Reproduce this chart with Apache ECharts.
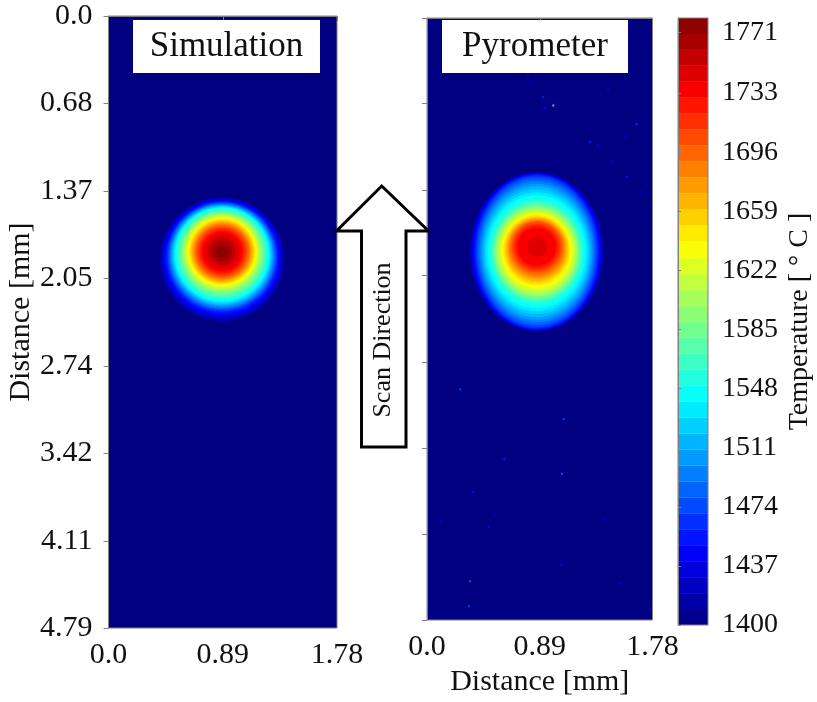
<!DOCTYPE html>
<html>
<head>
<meta charset="utf-8">
<script src="https://cdn.jsdelivr.net/npm/echarts@6/dist/echarts.min.js"></script>
<style>
  html, body { margin: 0; padding: 0; background: #ffffff; }
  #chart { width: 817px; height: 702px; }
</style>
</head>
<body>
<div id="chart"></div>
<script>
// ---- Axis ticks ----
const yTickLabels = ['0.0', '0.68', '1.37', '2.05', '2.74', '3.42', '4.11', '4.79'];
const xTickLabels = ['0.0', '0.89', '1.78'];
const tempTickLabels = [1400, 1437, 1474, 1511, 1548, 1585, 1622, 1659, 1696, 1733, 1771];
const trackWidth = 1.78;   // mm
const trackLength = 4.79;  // mm
const tempMin = 1400;
const tempMax = 1780;
const bandStep = 10;       // colour band width, °C

// ---- Simulation: isotherms (T >= level inside each circle) ----
const simLevels = [1410, 1420, 1430, 1440, 1450, 1460, 1470, 1480, 1490, 1500,
                   1510, 1520, 1530, 1540, 1550, 1560, 1570, 1580, 1590, 1600,
                   1610, 1620, 1630, 1640, 1650, 1660, 1670, 1680, 1690, 1700,
                   1710, 1720, 1730, 1740, 1750, 1760, 1770];
const simCenterX = 0.885;
const simCenterY = [1.903, 1.899, 1.896, 1.892, 1.889, 1.885, 1.882, 1.880, 1.878, 1.875,
                    1.873, 1.871, 1.868, 1.866, 1.863, 1.860, 1.857, 1.855, 1.853, 1.850,
                    1.849, 1.847, 1.846, 1.844, 1.844, 1.844, 1.844, 1.844, 1.844, 1.844,
                    1.844, 1.844, 1.844, 1.844, 1.844, 1.844, 1.844];
const simRadius = [0.484, 0.473, 0.463, 0.452, 0.441, 0.430, 0.422, 0.414, 0.406, 0.398,
                   0.391, 0.383, 0.375, 0.367, 0.356, 0.344, 0.333, 0.321, 0.310, 0.299,
                   0.289, 0.279, 0.269, 0.260, 0.250, 0.240, 0.230, 0.220, 0.210, 0.198,
                   0.185, 0.172, 0.158, 0.135, 0.108, 0.080, 0.050];

// ---- Pyrometer: isotherms (ellipses) ----
const pyroLevels = [1410, 1420, 1430, 1440, 1450, 1460, 1470, 1480, 1490, 1500,
                    1510, 1520, 1530, 1540, 1550, 1560, 1570, 1580, 1590, 1600,
                    1610, 1620, 1630, 1640, 1650, 1660, 1670, 1680, 1690, 1700,
                    1710, 1720, 1730, 1740];
const pyroCenterX = 0.866;
const pyroCenterY = [1.860, 1.860, 1.860, 1.860, 1.860, 1.860, 1.860, 1.860, 1.860, 1.860,
                     1.860, 1.860, 1.860, 1.860, 1.860, 1.860, 1.860, 1.860, 1.860, 1.860,
                     1.858, 1.855, 1.851, 1.847, 1.843, 1.840, 1.836, 1.832, 1.828, 1.822,
                     1.822, 1.821, 1.821, 1.821];
const pyroHalfWidth = [0.529, 0.521, 0.513, 0.506, 0.495, 0.485, 0.474, 0.463, 0.451, 0.440,
                       0.428, 0.415, 0.403, 0.387, 0.370, 0.355, 0.346, 0.336, 0.326, 0.316,
                       0.303, 0.291, 0.278, 0.265, 0.253, 0.242, 0.231, 0.221, 0.209, 0.197,
                       0.183, 0.169, 0.152, 0.079];
const pyroHalfHeight = [0.632, 0.628, 0.625, 0.621, 0.617, 0.609, 0.597, 0.581, 0.561, 0.542,
                        0.522, 0.498, 0.474, 0.451, 0.423, 0.399, 0.383, 0.368, 0.356, 0.344,
                        0.328, 0.312, 0.296, 0.281, 0.265, 0.253, 0.240, 0.227, 0.213, 0.200,
                        0.185, 0.170, 0.152, 0.079];

// ---- Pyrometer: isolated hot pixels ----
const speckX = [0.997, 0.916, 0.932, 1.287, 1.350, 1.655, 1.563, 1.468, 1.576, 1.681,
                0.797, 1.429, 0.263, 1.079, 0.610, 1.066, 0.363, 0.539, 0.487, 0.105,
                1.395, 0.339, 0.332, 1.063, 1.524, 1.761];
const speckY = [0.696, 0.630, 0.719, 0.988, 1.020, 0.846, 0.949, 1.146, 1.265, 1.383,
                0.490, 0.569, 2.954, 3.191, 3.508, 3.626, 3.771, 3.953, 4.047, 4.000,
                3.992, 4.482, 4.680, 4.348, 4.496, 4.693];
const speckTemp = [1530, 1460, 1450, 1460, 1450, 1470, 1440, 1440, 1450, 1440,
                   1440, 1430, 1470, 1470, 1460, 1480, 1450, 1440, 1450, 1430,
                   1430, 1480, 1470, 1450, 1440, 1440];

// ---------------------------------------------------------------
const FONT = "'Liberation Serif', 'Times New Roman', serif";
const AXIS_GREY = '#808080';
const yTickValues = yTickLabels.map(Number);
const xTickValues = xTickLabels.map(Number);
const labelOf = (vals, labels) => v => {
  const i = vals.findIndex(t => Math.abs(t - v) < 1e-6);
  return i >= 0 ? labels[i] : '';
};

// Every item: [a, b, c, d, temperature]; temperature lives in dimension 4
const fieldRect = [[0, 0, trackWidth, trackLength, tempMin]];
const simData = simLevels.map((lv, i) =>
  [simCenterX, simCenterY[i], simRadius[i], simRadius[i], lv + bandStep / 2]);
const pyroData = pyroLevels.map((lv, i) =>
  [pyroCenterX, pyroCenterY[i], pyroHalfWidth[i], pyroHalfHeight[i], lv + bandStep / 2]);
const speckSize = 0.016;
const speckData = speckX.map((x, i) =>
  [x - speckSize / 2, speckY[i] - speckSize / 2, x + speckSize / 2, speckY[i] + speckSize / 2, speckTemp[i]]);
const bandData = [];
for (let t = tempMin; t < tempMax; t += bandStep) {
  bandData.push([0, t, 1, t + bandStep, t + bandStep / 2]);
}

function renderRect(params, api) {
  const p0 = api.coord([api.value(0), api.value(1)]);
  const p1 = api.coord([api.value(2), api.value(3)]);
  return {
    type: 'rect',
    shape: {
      x: Math.min(p0[0], p1[0]), y: Math.min(p0[1], p1[1]),
      width: Math.abs(p1[0] - p0[0]), height: Math.abs(p1[1] - p0[1])
    },
    style: { fill: api.visual('color') }
  };
}
function renderEllipse(params, api) {
  const c = api.coord([api.value(0), api.value(1)]);
  const s = api.size([api.value(2), api.value(3)]);
  return {
    type: 'ellipse',
    shape: { cx: c[0], cy: c[1], rx: s[0], ry: s[1] },
    style: { fill: api.visual('color') }
  };
}

const distLabelStyle = { fontFamily: FONT, fontSize: 30, color: '#111' };
const nameStyle = { fontFamily: FONT, fontSize: 30, color: '#111' };

function distanceXAxis(gridIndex, withName) {
  return {
    type: 'value', gridIndex, min: 0, max: trackWidth, z: 10,
    name: withName ? 'Distance [mm]' : '',
    nameLocation: 'middle', nameGap: 47,
    nameTextStyle: nameStyle,
    axisLine: { show: true, lineStyle: { color: AXIS_GREY, width: 1 } },
    axisTick: { show: true, inside: false, length: 5, customValues: xTickValues,
                lineStyle: { color: AXIS_GREY } },
    axisLabel: Object.assign({ show: true, margin: 12, customValues: xTickValues,
                formatter: labelOf(xTickValues, xTickLabels) }, distLabelStyle),
    splitLine: { show: false }
  };
}
function distanceYAxis(gridIndex, withLabels) {
  return {
    type: 'value', gridIndex, min: 0, max: trackLength, inverse: true, z: 10,
    name: withLabels ? 'Distance [mm]' : '',
    nameLocation: 'middle', nameGap: 72, nameRotate: 90,
    nameTextStyle: Object.assign({ padding: [0, 0, 0, 20] }, nameStyle),
    axisLine: { show: true, lineStyle: { color: AXIS_GREY, width: 1 } },
    axisTick: { show: true, inside: false, length: 5, customValues: yTickValues,
                lineStyle: { color: AXIS_GREY } },
    axisLabel: Object.assign({ show: withLabels, margin: 16, customValues: yTickValues,
                formatter: labelOf(yTickValues, yTickLabels) }, distLabelStyle),
    splitLine: { show: false }
  };
}

const chart = echarts.init(document.getElementById('chart'), null, { renderer: 'canvas' });

const option = {
  backgroundColor: '#ffffff',
  animation: false,
  grid: [
    { left: 108.5, top: 16, width: 228.5, height: 612, show: true, z: 10,
      borderColor: AXIS_GREY, borderWidth: 1, backgroundColor: 'transparent' },
    { left: 427, top: 18, width: 225.5, height: 606, show: true, z: 10,
      borderColor: AXIS_GREY, borderWidth: 1, backgroundColor: 'transparent' },
    { left: 678, top: 18, width: 30, height: 607, show: true, z: 10,
      borderColor: AXIS_GREY, borderWidth: 1, backgroundColor: 'transparent' }
  ],
  xAxis: [
    distanceXAxis(0, false),
    distanceXAxis(1, true),
    { type: 'value', gridIndex: 2, min: 0, max: 1, show: false }
  ],
  yAxis: [
    distanceYAxis(0, true),
    distanceYAxis(1, false),
    {
      type: 'value', gridIndex: 2, position: 'right', min: tempMin, max: tempMax, z: 10,
      name: 'Temperature [ ° C ]', nameLocation: 'middle', nameRotate: 90, nameGap: 78,
      nameTextStyle: { fontFamily: FONT, fontSize: 28, color: '#111' },
      axisLine: { show: true, lineStyle: { color: AXIS_GREY, width: 1 } },
      axisTick: { show: true, inside: false, length: 3, customValues: tempTickLabels,
                  lineStyle: { color: AXIS_GREY } },
      axisLabel: { show: true, margin: 14, customValues: tempTickLabels,
                   formatter: v => String(v), fontFamily: FONT, fontSize: 28, color: '#111' },
      splitLine: { show: false }
    }
  ],
  visualMap: {
    type: 'continuous', show: false, min: tempMin, max: tempMax, dimension: 4,
    inRange: { color: ['#000080', '#0000ff', '#0080ff', '#00ffff', '#80ff80',
                       '#ffff00', '#ff8000', '#ff0000', '#800000'] }
  },
  series: [
    { name: 'simField', type: 'custom', xAxisIndex: 0, yAxisIndex: 0, clip: true,
      renderItem: renderRect, data: fieldRect, encode: { x: 0, y: 1 }, silent: true },
    { name: 'simIsotherms', type: 'custom', xAxisIndex: 0, yAxisIndex: 0, clip: true,
      renderItem: renderEllipse, data: simData, encode: { x: 0, y: 1 }, silent: true },
    { name: 'pyroField', type: 'custom', xAxisIndex: 1, yAxisIndex: 1, clip: true,
      renderItem: renderRect, data: fieldRect, encode: { x: 0, y: 1 }, silent: true },
    { name: 'pyroIsotherms', type: 'custom', xAxisIndex: 1, yAxisIndex: 1, clip: true,
      renderItem: renderEllipse, data: pyroData, encode: { x: 0, y: 1 }, silent: true },
    { name: 'pyroSpecks', type: 'custom', xAxisIndex: 1, yAxisIndex: 1, clip: true,
      renderItem: renderRect, data: speckData, encode: { x: 0, y: 1 }, silent: true },
    { name: 'colorBar', type: 'custom', xAxisIndex: 2, yAxisIndex: 2, clip: true,
      renderItem: renderRect, data: bandData, encode: { x: 0, y: 1 }, silent: true }
  ],
  graphic: [
    // panel titles
    { type: 'rect', z: 20, shape: { x: 133, y: 20, width: 187, height: 53 },
      style: { fill: '#ffffff' } },
    { type: 'text', z: 21, x: 226.5, y: 47,
      style: { text: 'Simulation', font: "35px 'Liberation Serif', serif", fill: '#111',
               align: 'center', verticalAlign: 'middle' } },
    { type: 'rect', z: 20, shape: { x: 442, y: 20, width: 186, height: 53 },
      style: { fill: '#ffffff' } },
    { type: 'text', z: 21, x: 535, y: 47,
      style: { text: 'Pyrometer', font: "35px 'Liberation Serif', serif", fill: '#111',
               align: 'center', verticalAlign: 'middle' } },
    // scan-direction arrow
    { type: 'polygon', z: 20,
      shape: { points: [[381.7, 186], [428.5, 231], [406, 231], [406, 447],
                        [361.5, 447], [361.5, 231], [336.5, 231]] },
      style: { fill: '#ffffff', stroke: '#000000', lineWidth: 3, lineJoin: 'miter' } },
    { type: 'text', z: 21, x: 383, y: 340, rotation: Math.PI / 2,
      style: { text: 'Scan Direction', font: "26px 'Liberation Serif', serif", fill: '#111',
               align: 'center', verticalAlign: 'middle' } }
  ]
};

chart.setOption(option);
</script>
</body>
</html>
